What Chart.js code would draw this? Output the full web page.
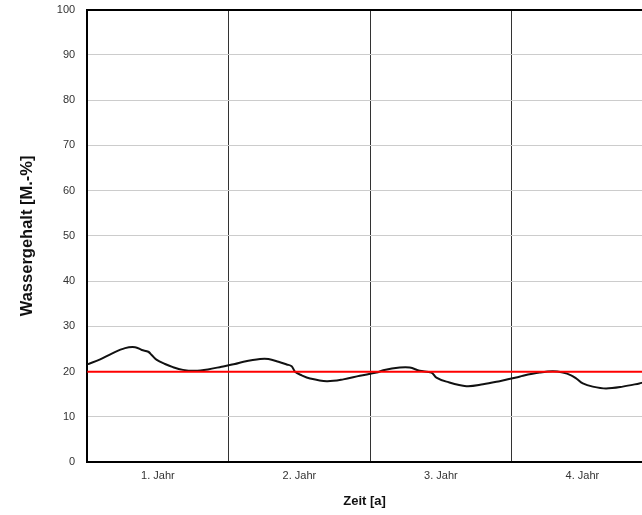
<!DOCTYPE html>
<html lang="de">
<head>
<meta charset="utf-8">
<title>Wassergehalt</title>
<script src="https://cdn.jsdelivr.net/npm/chart.js@4/dist/chart.umd.min.js"></script>
<style>
  html, body { margin: 0; padding: 0; background: #fff; overflow: hidden; }
  #box { position: relative; width: 642px; height: 515px; }
</style>
</head>
<body>
<div id="box"><canvas id="c"></canvas></div>
<script>
// Zeit in Jahren seit Beginn
const zeit = [0.000, 0.092, 0.174, 0.268, 0.339, 0.386, 0.432, 0.456, 0.492, 0.550,
              0.606, 0.677, 0.762, 0.853, 0.950, 1.044, 1.105, 1.222, 1.281, 1.352,
              1.410, 1.445, 1.469, 1.516, 1.575, 1.693, 1.810, 1.927, 2.045, 2.092,
              2.209, 2.280, 2.350, 2.433, 2.468, 2.539, 2.680, 2.798, 2.915, 3.032,
              3.080, 3.197, 3.291, 3.362, 3.420, 3.456, 3.503, 3.573, 3.667, 3.785,
              3.902, 3.930];
// Wassergehalt in M.-%
const wassergehalt = [21.6, 22.7, 24.0, 25.2, 25.4, 24.8, 24.4, 23.7, 22.6, 21.7,
                      21.0, 20.4, 20.2, 20.5, 21.1, 21.7, 22.2, 22.8, 22.8, 22.2,
                      21.6, 21.2, 20.0, 19.2, 18.5, 17.9, 18.3, 19.1, 19.8, 20.3,
                      20.9, 20.9, 20.2, 19.8, 18.7, 17.8, 16.8, 17.2, 17.9, 18.7,
                      19.1, 19.8, 20.1, 19.8, 19.2, 18.5, 17.4, 16.7, 16.3, 16.7,
                      17.4, 17.6];
// Grenzwert 20 M.-%
const grenzZeit = [0, 3.93];
const grenzwert = [20, 20];

const jahrLabels = ['1. Jahr', '2. Jahr', '3. Jahr', '4. Jahr'];
const jahrMitte = [0.5, 1.5, 2.5, 3.5];
const jahrGrenzen = [1, 2, 3];
const yTicks = [0, 10, 20, 30, 40, 50, 60, 70, 80, 90, 100];
const xMax = 3.921;

const fontFam = '"Liberation Sans", Arial, Helvetica, sans-serif';

new Chart(document.getElementById('c'), {
  type: 'line',
  data: {
    datasets: [
      {
        label: 'Grenzwert',
        data: grenzZeit.map((x, i) => ({ x, y: grenzwert[i] })),
        borderColor: '#ff0000',
        borderWidth: 2,
        pointRadius: 0,
        tension: 0,
        order: 0
      },
      {
        label: 'Wassergehalt',
        data: zeit.map((x, i) => ({ x, y: wassergehalt[i] })),
        borderColor: '#111111',
        borderWidth: 2,
        pointRadius: 0,
        tension: 0.35,
        order: 1
      }
    ]
  },
  options: {
    responsive: true,
    maintainAspectRatio: false,
    animation: false,
    layout: { padding: { top: 0, right: 0, bottom: 3, left: 8 } },
    plugins: { legend: { display: false }, tooltip: { enabled: false } },
    scales: {
      x: {
        type: 'linear', position: 'bottom', min: 0, max: xMax,
        afterBuildTicks: s => { s.ticks = jahrMitte.map(v => ({ value: v })); },
        ticks: {
          callback: v => jahrLabels[Math.floor(v)],
          font: { family: fontFam, size: 11 }, color: '#333',
          padding: 7, maxRotation: 0, autoSkip: false
        },
        grid: { display: false, drawTicks: false },
        border: { display: true, color: '#000', width: 2 },
        title: {
          display: true, text: 'Zeit [a]', color: '#111',
          font: { family: fontFam, size: 13, weight: 'bold' },
          padding: { top: 4, bottom: 3 }
        }
      },
      xg: {
        type: 'linear', position: 'top', min: 0, max: xMax,
        afterBuildTicks: s => { s.ticks = jahrGrenzen.map(v => ({ value: v })); },
        ticks: { display: false },
        grid: { color: '#333', lineWidth: 1, drawTicks: false },
        border: { display: true, color: '#000', width: 2 }
      },
      y: {
        min: 0, max: 100,
        afterBuildTicks: s => { s.ticks = yTicks.map(v => ({ value: v })); },
        ticks: { font: { family: fontFam, size: 11 }, color: '#333', padding: 3 },
        grid: { color: '#cccccc', lineWidth: 1, drawTicks: true, tickLength: 9, tickColor: 'rgba(0,0,0,0)' },
        border: { display: true, color: '#000', width: 2 },
        title: {
          display: true, text: 'Wassergehalt [M.-%]', color: '#111',
          font: { family: fontFam, size: 16.5, weight: 'bold' },
          padding: { top: 10, bottom: 16 }
        }
      }
    }
  }
});
</script>
</body>
</html>
